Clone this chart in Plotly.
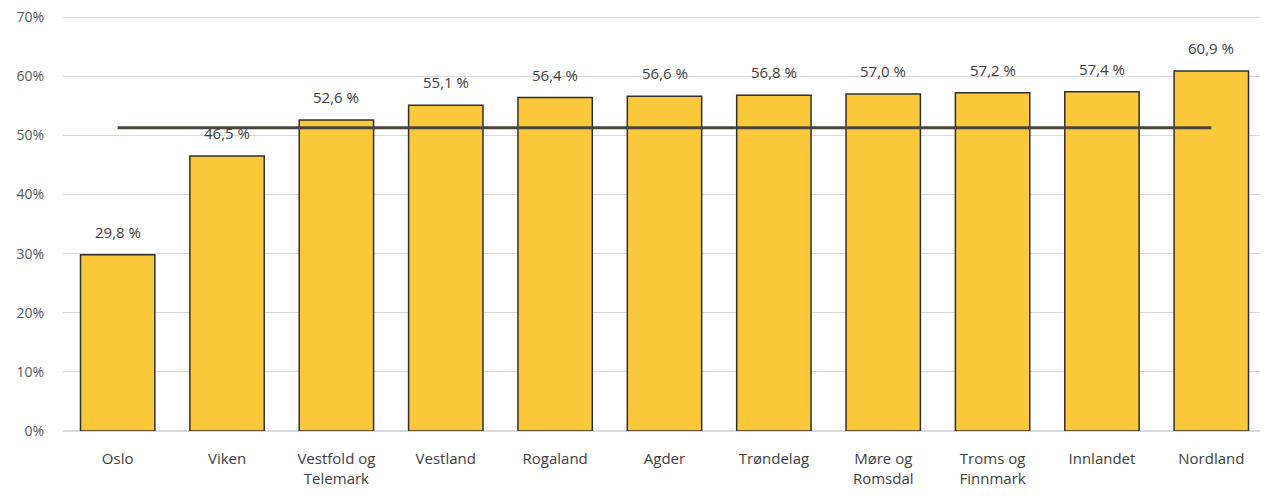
import plotly.graph_objects as go

categories = ["Oslo", "Viken", "Vestfold og<br>Telemark", "Vestland", "Rogaland", "Agder",
              "Trøndelag", "Møre og<br>Romsdal", "Troms og<br>Finnmark", "Innlandet", "Nordland"]
values = [29.8, 46.5, 52.6, 55.1, 56.4, 56.6, 56.8, 57.0, 57.2, 57.4, 60.9]
average = [51.3] * len(categories)
tick_vals = [0, 10, 20, 30, 40, 50, 60, 70]
tick_text = ["0%", "10%", "20%", "30%", "40%", "50%", "60%", "70%"]

fig = go.Figure()
fig.add_trace(go.Bar(
    x=categories, y=values,
    marker=dict(color="#FAC83A", line=dict(color="#2f2f2f", width=1.5)),
    width=0.68, hoverinfo="skip"))
fig.add_trace(go.Scatter(
    x=categories, y=average, mode="lines",
    line=dict(color="#4a463c", width=3), hoverinfo="skip"))

for c, v in zip(categories, values):
    fig.add_annotation(x=c, y=v, text=f"{v:.1f}".replace(".", ",") + " %",
                       showarrow=False, yanchor="bottom", yshift=11,
                       font=dict(size=15, color="#404040"))

fig.update_layout(
    width=1268, height=498,
    margin=dict(l=55, r=10, t=5, b=75),
    paper_bgcolor="white", plot_bgcolor="white",
    showlegend=False, bargap=0.32,
    font=dict(family="Open Sans, Liberation Sans, sans-serif", color="#595959", size=14),
)
fig.update_xaxes(showgrid=False, showline=True, linecolor="#d9d9d9", linewidth=1,
                 tickfont=dict(size=15, color="#404040"), ticks="",
                 automargin=False, ticklabelstandoff=14)
fig.update_yaxes(range=[0, 70.7], tickvals=tick_vals, ticktext=tick_text,
                 showgrid=True, gridcolor="#d9d9d9", gridwidth=1,
                 zeroline=True, zerolinecolor="#d9d9d9",
                 tickfont=dict(size=14, color="#595959"), ticks="", ticklabelstandoff=18,
                 automargin=False, ticklabeloverflow="allow")

fig.write_html("out.html")
